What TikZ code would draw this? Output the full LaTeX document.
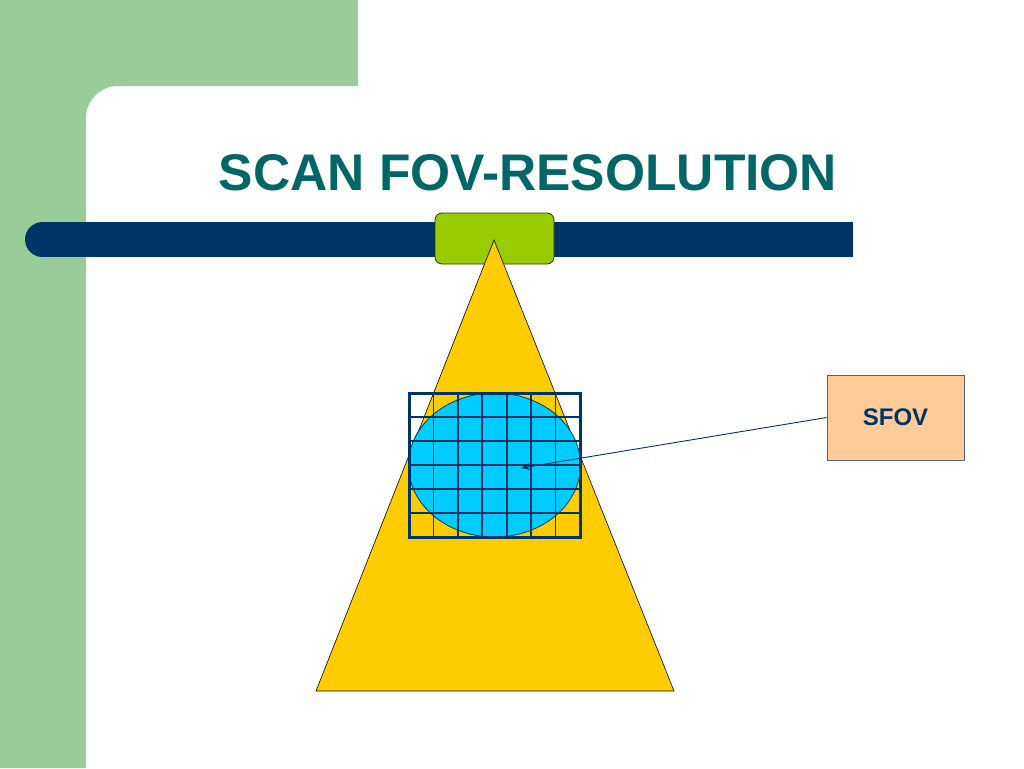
\documentclass[tikz,border=0pt]{standalone}
\usepackage{fontspec}
\setmainfont{Liberation Sans}
\usetikzlibrary{shapes.geometric,arrows.meta}
\definecolor{sidegreen}{HTML}{99CC99}
\definecolor{barblue}{HTML}{003366}
\definecolor{limegreen}{HTML}{99CC00}
\definecolor{limeedge}{HTML}{333300}
\definecolor{beamyellow}{HTML}{FFCC00}
\definecolor{cyanfill}{HTML}{00CCFF}
\definecolor{peach}{HTML}{FFCC99}
\definecolor{peachedge}{HTML}{4D6380}
\definecolor{titleteal}{HTML}{006666}
\tikzset{
  gridline/.style={draw=barblue, line width=1.8pt},
  gridframe/.style={draw=barblue, line width=3pt},
}
\begin{document}
\begin{tikzpicture}[x=1pt,y=-1pt]
\useasboundingbox (0,0) rectangle (1024,768);
\fill[white] (0,0) rectangle (1024,768);
% green side band with rounded inner corner
\fill[sidegreen] (0,0) -- (358,0) -- (358,86) -- (118,86) .. controls (100.3,86) and (86,100.3) .. (86,118) -- (86,768) -- (0,768) -- cycle;
% title
\node[font=\bfseries\fontsize{51.5}{60}\selectfont, text=titleteal, anchor=base, inner sep=0] (title) at (528,190) {SCAN FOV-RESOLUTION};
% blue bar
\fill[barblue] (42.5,222) rectangle (853,257);
\fill[barblue] (42.5,239.5) circle[radius=17.5pt];
% source box
\node[draw=limeedge, fill=limegreen, rounded corners=7pt, minimum width=119pt, minimum height=51pt, inner sep=0, line width=0.8pt] (src) at (494.5,238.5) {};
% beam triangle
\coordinate (apex) at (494,240);
\coordinate (bl) at (316,691);
\coordinate (br) at (674,691);
\filldraw[fill=beamyellow, draw=black, line width=0.6pt] (apex) -- (br) -- (bl) -- cycle;
% scan field ellipse
\node[ellipse, draw=barblue, line width=0.8pt, fill=cyanfill, minimum width=172pt, minimum height=144pt, inner sep=0] (field) at (494.5,465) {};
% matrix grid
\foreach \i in {1,...,6} {
  \draw[gridline] ({409+\i*171/7},393) -- ({409+\i*171/7},537);
}
\foreach \j in {1,...,5} {
  \draw[gridline] (409,{393+\j*144/6}) -- (580,{393+\j*144/6});
}
\draw[gridframe] (409,393) rectangle (580,537);
% label box and arrow
\node[draw=peachedge, fill=peach, line width=0.7pt, minimum width=137pt, minimum height=85pt, inner sep=0, font=\bfseries\fontsize{24}{28}\selectfont, text=barblue] (label) at (895.5,417.5) {SFOV};
\coordinate (tip) at (521,468);
\draw[barblue, line width=0.9pt, -{Stealth[length=9pt,width=7pt]}] (label.west) -- (tip);
\end{tikzpicture}
\end{document}
